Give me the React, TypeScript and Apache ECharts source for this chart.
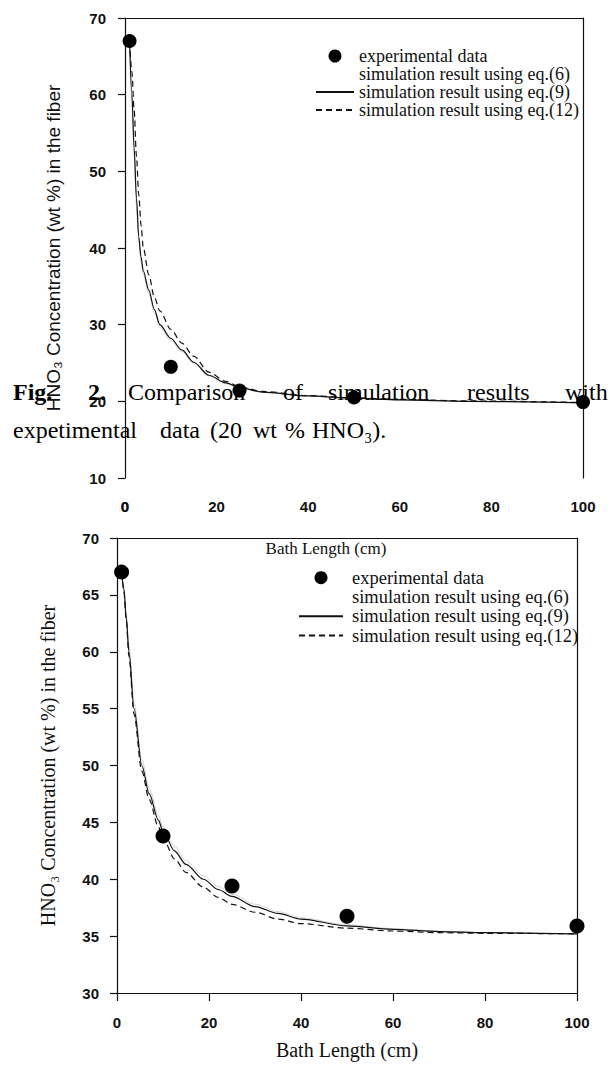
import React, { useEffect, useRef } from "react";
import * as echarts from "echarts";

// ---- data ----
const xTickLabels = ["0", "20", "40", "60", "80", "100"];
const expX = [1, 10, 25, 50, 100];
const exp20 = [67, 24.5, 21.4, 20.5, 19.9];
const exp35 = [67, 43.8, 39.4, 36.75, 35.9];

const simX1 = [1, 1.5, 2, 2.5, 3, 3.5, 4, 5.2, 6.4, 7.6, 10, 12.4, 15, 18.3, 22, 25, 30, 40, 50, 60, 75, 100];
const eq6_20 = [67, 59, 52, 45.5, 40.8, 38.2, 36.5, 34, 31.6, 29.7, 27.9, 26.5, 25.0, 23.3, 22.3, 21.75, 21.2, 20.7, 20.4, 20.2, 20.0, 19.8];
const eq9_20 = [67, 60, 53, 46.5, 41.5, 38.8, 37, 34.5, 32, 30, 28.2, 26.7, 25.1, 23.4, 22.4, 21.8, 21.2, 20.7, 20.4, 20.2, 20.0, 19.8];
const eq12_20 = [67, 63, 58, 52, 47, 43, 40, 36.5, 33.6, 31.8, 29.4, 27.6, 25.9, 23.8, 22.6, 21.9, 21.3, 20.75, 20.45, 20.25, 20.05, 19.85];

const simX2 = [1, 1.5, 2, 2.6, 3.7, 5.4, 7, 9, 10, 12.5, 15, 18.8, 22, 25, 30, 35, 40, 50, 60, 70, 80, 100];
const eq6_35 = [67, 65.8, 63.4, 60.5, 55.5, 50.5, 48, 45.6, 44.6, 42.9, 41.6, 40.3, 39.35, 38.7, 37.8, 37.15, 36.6, 36.0, 35.65, 35.45, 35.3, 35.2];
const eq9_35 = [67, 65.5, 63, 60, 55, 50, 47.5, 45.2, 44.2, 42.5, 41.3, 40, 39.1, 38.5, 37.6, 37.0, 36.5, 35.9, 35.6, 35.4, 35.3, 35.2];
const eq12_35 = [67, 65.3, 62.8, 59.6, 54.5, 49.5, 47, 44.6, 43.6, 41.8, 40.6, 39.3, 38.4, 37.8, 37.1, 36.5, 36.1, 35.7, 35.45, 35.3, 35.25, 35.2];

const seriesNames = [
  "experimental data",
  "simulation result using eq.(6)",
  "simulation result using eq.(9)",
  "simulation result using eq.(12)",
];
const yTitle = "HNO\u2083 Concentration (wt %) in the fiber";
const xTitle = "Bath Length (cm)";

const captionLine1 = ["Fig.", "2.", "Comparison", "of", "simulation", "results", "with"];
const captionLine2 = ["expetimental", "data", "(20", "wt", "%", "HNO\u2083)."];

const zip = (xs: number[], ys: number[]) => xs.map((x, i) => [x, ys[i]]);

export default function App() {
  const ref = useRef<HTMLDivElement>(null);
  useEffect(() => {
    if (!ref.current) return;
    const chart = echarts.init(ref.current, null, { renderer: "svg" });
    const black = "#111";
    const tickFont = { fontFamily: "Liberation Sans", fontWeight: "bold" as const, fontSize: 15, color: black };
    const serif = "Liberation Serif";
    const axisLineStyle = { color: black, width: 1.2 };

    const g1 = { left: 125, top: 18, width: 458, height: 460 };
    const step = g1.width / (xTickLabels.length - 1);
    const labelMargin1 = 21;

    const frameX = (gridIndex: number) => ({
      gridIndex, type: "value", position: "top", min: 0, max: 100, interval: 20,
      axisLine: { show: true, onZero: false, lineStyle: axisLineStyle },
      axisTick: { show: false }, axisLabel: { show: false }, splitLine: { show: false },
    });
    const frameY = (gridIndex: number, min: number, interval: number) => ({
      gridIndex, type: "value", position: "right", min, max: 70, interval,
      axisLine: { show: true, onZero: false, lineStyle: axisLineStyle },
      axisTick: { show: false }, axisLabel: { show: false }, splitLine: { show: false },
    });

    const legendData = [
      { name: seriesNames[0] },
      { name: seriesNames[1], itemStyle: { opacity: 0 }, lineStyle: { opacity: 0 } },
      { name: seriesNames[2], itemStyle: { opacity: 0 } },
      { name: seriesNames[3], itemStyle: { opacity: 0 } },
    ];
    const legendBase = {
      orient: "vertical", itemGap: 0, itemHeight: 13, selectedMode: false,
      data: legendData,
    };

    const lineSeries = (name: string, xi: number, yi: number, xs: number[], ys: number[], style: any) => ({
      type: "line", name, xAxisIndex: xi, yAxisIndex: yi,
      data: zip(xs, ys), symbol: "none", showSymbol: false,
      itemStyle: { color: style.color },
      smooth: 0.3, smoothMonotone: "x", lineStyle: style, z: 3,
    });

    const solid = { color: black, width: 1.2, type: "solid" };
    const dashed = { color: black, width: 1.2, type: [6, 4] };
    const faint = { color: "#c8c8c8", width: 0.8, type: "solid" };

    const captionFont = (bold: boolean) => `${bold ? "bold " : ""}24px "Liberation Serif"`;
    const line1X = [13, 88, 128, 283, 328, 467, 565];
    const line2X = [13, 160, 210, 253, 285, 312];

    const option: any = {
      animation: false,
      backgroundColor: "#fff",
      grid: [
        { ...g1, outerBoundsMode: "none" },
        { left: 117, top: 538, width: 460, height: 455, outerBoundsMode: "none" },
        { left: g1.left - step, top: g1.top, width: g1.width + 2 * step, height: g1.height, outerBoundsMode: "none" },
        { ...g1, outerBoundsMode: "none" },
      ],
      xAxis: [
        frameX(0),
        {
          gridIndex: 1, type: "value", min: 0, max: 100, interval: 20,
          axisLine: { show: true, onZero: false, lineStyle: axisLineStyle },
          axisTick: { show: true, length: 8, lineStyle: axisLineStyle },
          splitLine: { show: false },
          axisLabel: { ...tickFont, margin: 22, showMinLabel: true, showMaxLabel: true },
          name: xTitle, nameLocation: "middle", nameGap: 47,
          nameTextStyle: { fontFamily: serif, fontSize: 20, color: black },
        },
        frameX(1),
        {
          gridIndex: 2, type: "category", position: "bottom", data: ["", ...xTickLabels, ""], boundaryGap: false,
          axisLine: { show: false }, axisTick: { show: false }, splitLine: { show: false },
          axisLabel: { ...tickFont, margin: labelMargin1, interval: 0, showMinLabel: true, showMaxLabel: true, hideOverlap: false },
        },
        {
          gridIndex: 3, type: "value", position: "bottom", min: 0, max: 100,
          axisLine: { show: false }, axisTick: { show: false }, splitLine: { show: false },
          axisLabel: { show: false },
          name: xTitle, nameLocation: "middle", nameGap: 62,
          nameTextStyle: { fontFamily: serif, fontSize: 17, color: black, padding: [0, 56, 0, 0] },
        },
      ],
      yAxis: [
        {
          gridIndex: 0, type: "value", min: 10, max: 70, interval: 10,
          axisLine: { show: true, onZero: false, lineStyle: axisLineStyle },
          axisTick: { show: true, length: 7, lineStyle: axisLineStyle },
          splitLine: { show: false },
          axisLabel: { ...tickFont, margin: 19, showMinLabel: true, showMaxLabel: true },
          name: yTitle, nameLocation: "middle", nameGap: 62,
          nameTextStyle: { fontFamily: "Liberation Sans", fontSize: 19, color: black },
        },
        frameY(0, 10, 10),
        {
          gridIndex: 1, type: "value", min: 30, max: 70, interval: 5,
          axisLine: { show: true, onZero: false, lineStyle: axisLineStyle },
          axisTick: { show: true, length: 7, lineStyle: axisLineStyle },
          splitLine: { show: false },
          axisLabel: { ...tickFont, margin: 18, showMinLabel: true, showMaxLabel: true },
          name: yTitle, nameLocation: "middle", nameGap: 59,
          nameTextStyle: { fontFamily: serif, fontSize: 20, color: black },
        },
        frameY(1, 30, 5),
        { gridIndex: 2, type: "value", min: 10, max: 70, show: false },
        { gridIndex: 3, type: "value", min: 10, max: 70, show: false },
      ],
      legend: [
        {
          ...legendBase, left: 310, top: 42, itemWidth: 38,
          textStyle: { fontFamily: serif, fontSize: 18, color: black, lineHeight: 17.8, padding: [0, 0, 0, 0] },
        },
        {
          ...legendBase, left: 293, top: 563, itemWidth: 44,
          textStyle: { fontFamily: serif, fontSize: 18.5, color: black, lineHeight: 19.3, padding: [0, 0, 0, 4] },
        },
      ],
      series: [
        {
          type: "scatter", name: seriesNames[0], xAxisIndex: 0, yAxisIndex: 0,
          data: zip(expX, exp20), symbol: "circle", symbolSize: 14,
          itemStyle: { color: "#000", opacity: 1 }, z: 5,
        },
        lineSeries(seriesNames[1], 0, 0, simX1, eq6_20, faint),
        lineSeries(seriesNames[2], 0, 0, simX1, eq9_20, solid),
        lineSeries(seriesNames[3], 0, 0, simX1, eq12_20, dashed),
        {
          type: "scatter", name: seriesNames[0], xAxisIndex: 1, yAxisIndex: 2,
          data: zip(expX, exp35), symbol: "circle", symbolSize: 15,
          itemStyle: { color: "#000", opacity: 1 }, z: 5,
        },
        lineSeries(seriesNames[1], 1, 2, simX2, eq6_35, faint),
        lineSeries(seriesNames[2], 1, 2, simX2, eq9_35, solid),
        lineSeries(seriesNames[3], 1, 2, simX2, eq12_35, dashed),
      ],
      graphic: [
        ...captionLine1.map((w, i) => ({
          type: "text", x: line1X[i], y: 392, z: 100,
          style: { text: w, font: captionFont(i < 2), fill: "#000", textVerticalAlign: "middle", verticalAlign: "middle" },
        })),
        ...captionLine2.map((w, i) => ({
          type: "text", x: line2X[i], y: 430, z: 100,
          style: { text: w, font: captionFont(false), fill: "#000", textVerticalAlign: "middle", verticalAlign: "middle" },
        })),
      ],
    };
    chart.setOption(option);

    // The first tick label of the top chart is suppressed by the axis layout; place it
    // through the chart's own scale so it sits exactly where the axis would put it.
    const x0 = chart.convertToPixel({ xAxisIndex: 0 }, Number(xTickLabels[0])) as number;
    const yBase = chart.convertToPixel({ yAxisIndex: 0 }, 10) as number;
    chart.setOption({
      graphic: [
        ...option.graphic,
        {
          type: "text", x: x0, y: yBase + labelMargin1, z: 10,
          style: {
            text: xTickLabels[0], font: 'bold 15px "Liberation Sans"', fill: black,
            textAlign: "center", align: "center", textVerticalAlign: "top", verticalAlign: "top",
          },
        },
      ],
    });
    return () => chart.dispose();
  }, []);
  return (
    <div
      ref={ref}
      style={{ position: "absolute", left: 0, top: 0, width: 614, height: 1073, background: "#fff" }}
    />
  );
}
